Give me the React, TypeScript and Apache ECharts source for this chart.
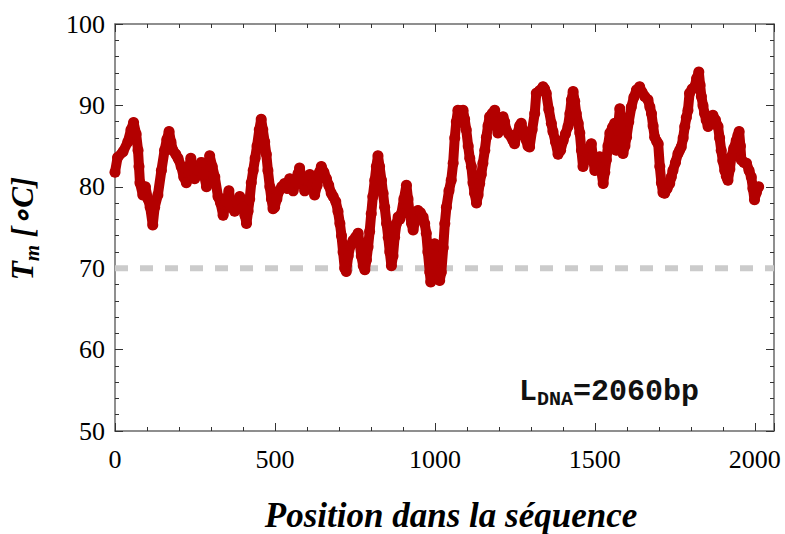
import React, { useEffect, useRef } from "react";
import * as echarts from "echarts";

// Position along the sequence (bp) and melting temperature Tm (°C)
const positions = [
  0, 8, 25, 40, 50, 58, 66, 72, 75, 78, 87, 95, 103, 110, 118, 124, 134, 145, 155, 162,
  169, 175, 181, 190, 197, 207, 215, 223, 230, 237, 243, 249, 260, 270, 278, 286, 296, 304, 312, 322,
  330, 338, 348, 356, 364, 374, 382, 390, 400, 406, 411, 416, 421, 426, 432, 438, 444, 451, 457, 462,
  468, 473, 478, 484, 489, 494, 499, 506, 513, 521, 530, 538, 546, 552, 557, 565, 572, 577, 585, 593,
  601, 609, 617, 624, 632, 639, 645, 653, 661, 668, 676, 682, 690, 697, 703, 708, 713, 718, 723, 729,
  736, 744, 752, 760, 765, 770, 776, 781, 786, 791, 796, 801, 806, 812, 817, 822, 827, 833, 838, 843,
  849, 854, 859, 864, 869, 874, 880, 885, 890, 895, 903, 911, 916, 921, 927, 932, 940, 947, 955, 963,
  968, 973, 978, 984, 987, 993, 999, 1004, 1010, 1015, 1020, 1026, 1031, 1036, 1044, 1051, 1057, 1062, 1067, 1072,
  1080, 1088, 1093, 1098, 1104, 1109, 1114, 1119, 1124, 1130, 1135, 1140, 1145, 1150, 1156, 1161, 1166, 1171, 1179, 1187,
  1192, 1197, 1205, 1213, 1218, 1223, 1231, 1239, 1244, 1249, 1257, 1265, 1270, 1278, 1286, 1291, 1296, 1304, 1312, 1317,
  1327, 1338, 1343, 1348, 1356, 1364, 1369, 1377, 1385, 1393, 1401, 1408, 1416, 1422, 1427, 1432, 1437, 1442, 1448, 1453,
  1458, 1463, 1471, 1479, 1484, 1489, 1494, 1500, 1508, 1515, 1520, 1526, 1531, 1536, 1541, 1547, 1555, 1562, 1567, 1572,
  1578, 1583, 1588, 1594, 1599, 1606, 1614, 1622, 1630, 1640, 1648, 1656, 1666, 1672, 1677, 1682, 1687, 1693, 1698, 1703,
  1708, 1713, 1718, 1726, 1734, 1739, 1744, 1752, 1760, 1765, 1770, 1776, 1781, 1786, 1791, 1796, 1804, 1812, 1818, 1825,
  1829, 1833, 1838, 1843, 1848, 1854, 1861, 1869, 1877, 1885, 1890, 1895, 1900, 1906, 1911, 1916, 1922, 1927, 1934, 1942,
  1947, 1951, 1955, 1958, 1966, 1974, 1982, 1989, 1994, 1999, 2005, 2012,
];

const tm = [
  81.8, 83.6, 84.3, 85.5, 87.0, 87.9, 86.5, 84.5, 82.5, 80.5, 79.0, 80.0, 78.5, 77.5, 75.3, 77.5, 79.0, 82.0, 84.5, 85.8,
  86.8, 85.5, 84.5, 84.0, 83.5, 82.5, 81.2, 80.5, 82.0, 83.5, 82.5, 81.0, 82.0, 83.0, 81.5, 80.0, 83.8, 82.5, 81.2, 78.8,
  78.0, 76.5, 78.2, 79.5, 77.5, 77.0, 78.0, 78.8, 77.5, 76.5, 75.5, 77.0, 78.5, 80.5, 82.0, 83.5, 85.0, 87.0, 88.3, 87.0,
  85.5, 84.0, 82.0, 80.0, 78.5, 77.3, 77.5, 78.5, 79.5, 80.0, 80.4, 79.8, 81.0, 80.2, 79.5, 80.5, 81.6, 82.3, 81.0, 79.5,
  80.8, 81.5, 80.3, 79.0, 80.2, 81.8, 82.5, 81.8, 81.0, 80.2, 79.2, 78.8, 78.2, 77.0, 75.5, 74.0, 72.0, 70.0, 69.6, 71.5,
  72.8, 73.4, 73.8, 74.3, 73.0, 71.5, 70.3, 69.8, 71.0, 72.6, 74.5, 76.7, 78.8, 80.8, 82.5, 83.8, 82.5, 80.8, 79.2, 77.5,
  75.5, 73.8, 72.0, 70.3, 71.5, 73.8, 75.5, 76.3, 76.0, 76.7, 78.5, 80.2, 78.5, 76.7, 75.5, 74.7, 76.0, 77.1, 76.8, 76.3,
  75.5, 74.3, 72.0, 69.5, 68.3, 70.5, 73.0, 71.5, 69.7, 68.5, 69.5, 72.5, 75.5, 77.5, 79.5, 80.8, 82.9, 86.0, 88.0, 89.4,
  89.3, 89.4, 88.3, 87.0, 85.0, 83.5, 82.5, 80.5, 79.2, 78.0, 79.0, 80.4, 81.5, 82.9, 84.5, 86.1, 87.5, 88.6, 89.0, 89.4,
  88.0, 86.6, 87.5, 88.6, 88.0, 87.0, 86.5, 86.1, 85.7, 85.3, 86.5, 87.5, 87.8, 86.5, 85.7, 85.0, 84.9, 87.0, 89.0, 91.5,
  91.8, 92.3, 92.0, 91.5, 89.5, 87.8, 86.8, 85.5, 84.0, 84.5, 85.7, 86.5, 87.4, 89.0, 90.7, 91.7, 90.5, 89.0, 87.8, 86.6,
  84.5, 82.5, 83.5, 84.1, 84.8, 85.3, 83.5, 82.0, 83.0, 83.7, 82.0, 80.4, 81.8, 83.3, 85.0, 86.6, 87.3, 87.8, 84.5, 87.0,
  89.6, 87.0, 84.1, 85.0, 86.1, 88.0, 89.8, 91.0, 91.9, 92.3, 91.6, 91.1, 90.7, 89.8, 89.0, 87.5, 86.1, 85.6, 85.3, 82.5,
  80.5, 79.3, 79.2, 79.8, 80.4, 81.2, 82.0, 83.0, 84.1, 84.5, 84.9, 86.0, 87.4, 88.5, 89.4, 91.5, 92.0, 92.3, 93.3, 94.1,
  92.5, 91.1, 90.0, 89.0, 88.2, 87.4, 88.2, 88.8, 88.2, 87.4, 86.0, 84.5, 83.2, 82.0, 81.3, 80.8, 82.2, 83.7, 84.7, 85.7,
  86.3, 86.8, 85.0, 83.3, 83.0, 82.9, 82.0, 81.2, 79.8, 78.4, 79.3, 80.0,
];

const thresholdTm = 70;
const sequenceLength = 2060;
const xTickValues = [0, 500, 1000, 1500, 2000];
const yTickValues = [50, 60, 70, 80, 90, 100];

const RED = "#b30000";
const SERIF = '"Liberation Serif", "Times New Roman", serif';
const MONO = '"Liberation Mono", "DejaVu Sans Mono", monospace';

export default function App() {
  const ref = useRef<HTMLDivElement>(null);

  useEffect(() => {
    if (!ref.current) return;
    const chart = echarts.init(ref.current, undefined, { renderer: "svg" });

    const xMin = xTickValues[0];
    const xInterval = xTickValues[1] - xTickValues[0];
    const yMin = yTickValues[0];
    const yMax = yTickValues[yTickValues.length - 1];
    const yInterval = yTickValues[1] - yTickValues[0];

    const axisLine = { show: true, onZero: false, lineStyle: { color: "#6a6a6a", width: 1.5 } };
    const axisTick = { show: true, inside: true, length: 8, lineStyle: { color: "#333", width: 1 } };
    const minorTick = { show: true, splitNumber: 5, length: 4, lineStyle: { color: "#333", width: 1 } };

    const xBase = {
      type: "value",
      min: xMin,
      max: sequenceLength,
      interval: xInterval,
      axisLine,
      axisTick,
      minorTick,
      splitLine: { show: false },
      minorSplitLine: { show: false },
    };
    const yBase = {
      type: "value",
      min: yMin,
      max: yMax,
      interval: yInterval,
      axisLine,
      axisTick,
      minorTick,
      splitLine: { show: false },
      minorSplitLine: { show: false },
    };

    chart.setOption({
      animation: false,
      backgroundColor: "#ffffff",
      grid: { left: 115, right: 11, top: 24, bottom: 103, containLabel: false },
      xAxis: [
        {
          ...xBase,
          position: "bottom",
          axisLabel: {
            show: true,
            margin: 15,
            fontFamily: SERIF,
            fontSize: 26,
            color: "#000",
            showMaxLabel: false,
            formatter: (v: number) => String(v),
          },
        },
        { ...xBase, position: "top", axisLabel: { show: false } },
      ],
      yAxis: [
        {
          ...yBase,
          position: "left",
          axisLabel: {
            show: true,
            margin: 10,
            fontFamily: SERIF,
            fontSize: 26,
            color: "#000",
            formatter: (v: number) => String(v),
          },
        },
        { ...yBase, position: "right", axisLabel: { show: false } },
      ],
      series: [
        {
          type: "line",
          name: "seuil",
          data: [
            [xMin, thresholdTm],
            [sequenceLength, thresholdTm],
          ],
          symbol: "none",
          silent: true,
          z: 1,
          lineStyle: { color: "#cbcbcb", width: 6, type: [13, 12], cap: "butt" },
        },
        {
          type: "line",
          name: "Tm",
          data: positions.map((p, i) => [p, tm[i]]),
          symbol: "circle",
          symbolSize: 11,
          showSymbol: true,
          z: 2,
          itemStyle: { color: RED },
          lineStyle: { color: RED, width: 10, cap: "round", join: "round" },
        },
      ],
      graphic: [
        {
          type: "text",
          x: 451,
          y: 515,
          style: {
            text: "Position dans la séquence",
            font: `italic bold 35px ${SERIF}`,
            fill: "#000",
            textAlign: "center",
            textVerticalAlign: "middle",
            align: "center",
            verticalAlign: "middle",
          },
        },
        {
          type: "text",
          x: 22.5,
          y: 228.5,
          rotation: Math.PI / 2,
          style: {
            text: "{t|T}{s|m}{t| [∘C]}",
            fill: "#000",
            textAlign: "center",
            textVerticalAlign: "middle",
            align: "center",
            verticalAlign: "middle",
            rich: {
              t: { font: `italic bold 31px ${SERIF}`, fill: "#000" },
              s: {
                font: `italic bold 21px ${SERIF}`,
                fill: "#000",
                verticalAlign: "top",
                padding: [18, 0, 0, 0],
              },
            },
          },
        },
        {
          type: "text",
          x: 609,
          y: 391.5,
          style: {
            text: "{t|L}{s|DNA}{t|=2060bp}",
            fill: "#111",
            textAlign: "center",
            textVerticalAlign: "middle",
            align: "center",
            verticalAlign: "middle",
            rich: {
              t: { font: `bold 30px ${MONO}`, fill: "#111" },
              s: {
                font: `bold 20px ${MONO}`,
                fill: "#111",
                verticalAlign: "top",
                padding: [15, 0, 0, 0],
              },
            },
          },
        },
      ],
    });

    return () => chart.dispose();
  }, []);

  return (
    <div
      ref={ref}
      style={{ position: "fixed", left: 0, top: 0, width: 785, height: 534, background: "#fff" }}
    />
  );
}
